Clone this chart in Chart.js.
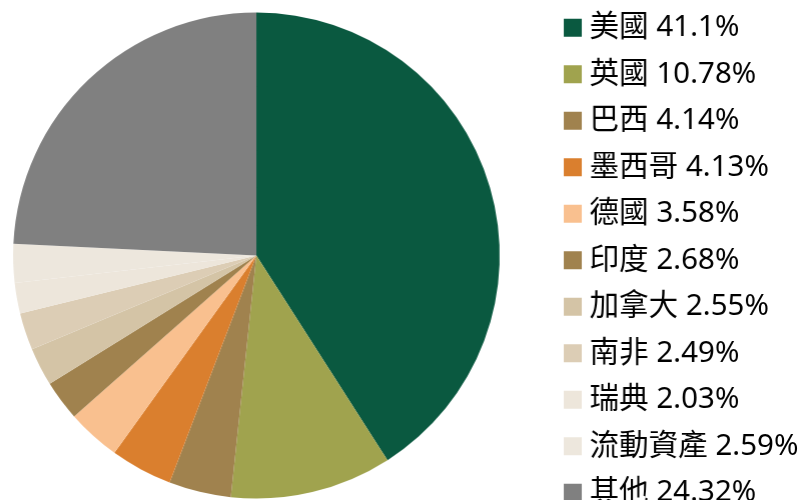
<!DOCTYPE html>
<html>
<head>
<meta charset="utf-8">
<script src="https://cdn.jsdelivr.net/npm/chart.js@4.4.1/dist/chart.umd.min.js"></script>
<style>
  body { margin: 0; background: #fff; }
  #frame { position: relative; width: 802px; height: 500px; overflow: hidden; }
  /* canvas is a bit bigger than the window so the last legend row gets cut off like the original */
  #box { position: absolute; left: -41px; top: -4px; width: 850px; height: 540px; }
</style>
</head>
<body>
<div id="frame"><div id="box"><canvas id="myChart"></canvas></div></div>
<script>
var countries = ["美國", "英國", "巴西", "墨西哥", "德國", "印度", "加拿大", "南非", "瑞典", "流動資產", "其他"];
var shares = [41.1, 10.78, 4.14, 4.13, 3.58, 2.68, 2.55, 2.49, 2.03, 2.59, 24.32];
var sliceColors = [
  "#0a5940",
  "#a0a34e",
  "#a0824e",
  "#da7f2e",
  "#f9c08f",
  "#a0824e",
  "#d4c4a6",
  "#dccdb5",
  "#ede6db",
  "#ede7dd",
  "#808080",
];

var chart = new Chart("myChart", {
  type: "pie",
  data: {
    labels: countries,
    datasets: [
      {
        data: shares,
        backgroundColor: sliceColors,
        borderWidth: 0,
        radius: 243,
      },
    ],
  },
  options: {
    responsive: true,
    maintainAspectRatio: false,
    animation: false,
    layout: { padding: 0 },
    plugins: {
      tooltip: { enabled: false },
      // empty bottom title: only shortens the pie area, the legend keeps full height
      title: {
        display: true,
        position: "bottom",
        fullSize: false,
        text: "",
        padding: 0,
        font: { size: 10, lineHeight: "21px" },
      },
      legend: {
        position: "right",
        align: "start",
        labels: {
          color: "#000",
          padding: 17,
          boxWidth: 4,
          boxHeight: 4,
          font: { family: "'Noto Sans', 'Noto Sans CJK TC', sans-serif", size: 29.5 },
          generateLabels: function (c) {
            var items = Chart.overrides.pie.plugins.legend.labels.generateLabels(c);
            items.forEach(function (item, i) {
              item.text = countries[i] + " " + shares[i] + "%";
              // thick stroke in the fill colour makes an 18px square that sits close to the text
              item.strokeStyle = item.fillStyle;
              item.lineWidth = 14;
              item.lineJoin = "miter";
            });
            return items;
          },
        },
      },
    },
  },
});

// pie area must stay 594px wide, whatever width the legend measures
document.getElementById("box").style.width = (594 + chart.legend.width) + "px";
chart.resize();
</script>
</body>
</html>
